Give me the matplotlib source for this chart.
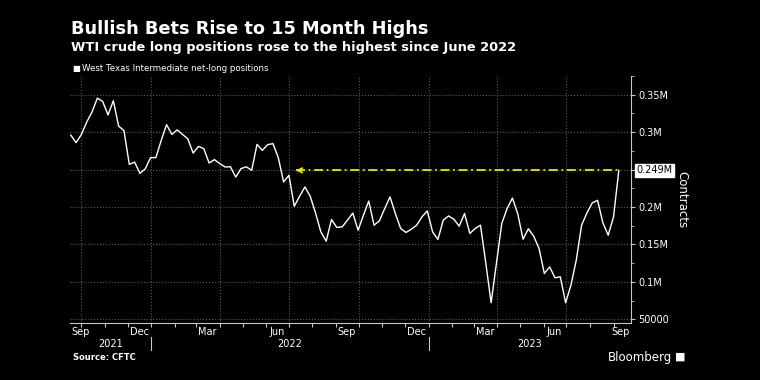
import matplotlib

matplotlib.use("Agg")
import matplotlib.dates as mdates
import matplotlib.pyplot as plt
import pandas as pd

# CFTC weekly data, WTI net-long positions (thousand contracts)
dates = pd.date_range("2021-09-17", periods=104, freq="7D")
net_long_k = [
    296, 286, 297, 313.5, 327, 345.5, 341, 323, 342, 308,
    302, 257, 260, 245, 251, 266, 266, 289, 310, 297,
    303, 297, 291, 272, 281, 278, 258.8, 263.3, 258, 253.5,
    253.7, 240, 251.3, 253.7, 249, 283.7, 275.7, 283.3, 284.7, 266,
    233.5, 242.4, 201, 214.4, 226.8, 214.4, 192, 166.8, 154.4, 183.3,
    172.7, 173.5, 182.4, 192, 169, 189, 208, 175.7, 181.5, 198,
    213.5, 191.3, 171.3, 166, 170.4, 175.7, 186.8, 194.8, 166.8, 156.7,
    182.4, 188.1, 183.7, 174.4, 191.3, 164.7, 171.3, 175.7, 125, 72.1,
    125, 178, 198, 212, 191, 157, 171, 161, 144.7, 111.3,
    120, 105.5, 106.8, 72.1, 95.7, 129, 175.7, 192, 205.5, 209,
    179, 162.4, 186.8, 249,
]
values = [v * 1000 for v in net_long_k]

highlight_value = 249000
highlight_label = "0.249M"
arrow_target = pd.Timestamp("2022-07-10")

y_ticks = [50000, 100000, 150000, 200000, 250000, 300000, 350000]
y_tick_labels = ["50000", "0.1M", "0.15M", "0.2M", "", "0.3M", "0.35M"]
month_labels = [
    ("2021-09-15", "Sep"), ("2021-12-16", "Dec"), ("2022-03-16", "Mar"),
    ("2022-06-15", "Jun"), ("2022-09-15", "Sep"), ("2022-12-16", "Dec"),
    ("2023-03-16", "Mar"), ("2023-06-15", "Jun"), ("2023-09-15", "Sep"),
]
years = ["2021", "2022", "2023"]

title = "Bullish Bets Rise to 15 Month Highs"
subtitle = "WTI crude long positions rose to the highest since June 2022"
legend_text = "West Texas Intermediate net-long positions"

# 色
BG = "black"
FG = "white"
GRID = "#5c5c5c"
AXIS = "#c8c8c8"
YELLOW = "#e8e800"

fig = plt.figure(figsize=(7.6, 3.8), dpi=100, facecolor=BG)
ax = fig.add_axes([70 / 760, 1 - 323.3 / 380, (631 - 70) / 760, (323.3 - 76) / 380])
ax.set_facecolor(BG)

ax.plot(dates, values, color=FG, lw=1.0, zorder=3)

# highlight line + arrow
ax.plot([arrow_target, dates[-1]], [highlight_value, highlight_value],
        color=YELLOW, lw=1.3, linestyle=(0, (5, 2, 1, 2)), zorder=2)
ax.annotate("", xy=(arrow_target, highlight_value),
            xytext=(arrow_target + pd.Timedelta(days=6), highlight_value),
            arrowprops=dict(arrowstyle="->", color=YELLOW, lw=1.3, mutation_scale=8,
                            shrinkA=0, shrinkB=0), zorder=2)

x_left = dates[0] - pd.Timedelta(days=1)
x_right = pd.Timestamp("2023-09-24")
ax.set_xlim(x_left, x_right)
ax.set_ylim(44700, 374000)

# y axis on the right
ax.yaxis.tick_right()
ax.set_yticks(y_ticks)
ax.set_yticklabels(y_tick_labels)
ax.set_yticks([v + 25000 for v in y_ticks], minor=True)
ax.tick_params(axis="y", which="major", colors=AXIS, labelcolor=FG, labelsize=7, length=3, pad=2)
ax.tick_params(axis="y", which="minor", colors=AXIS, length=2)
ax.yaxis.set_label_position("right")
ax.set_ylabel("Contracts", color=FG, fontsize=8.5, rotation=270, labelpad=14)

# x axis: month ticks, quarter gridlines
ax.xaxis.set_major_locator(mdates.MonthLocator(bymonth=[1, 4, 7, 10]))
ax.xaxis.set_minor_locator(mdates.MonthLocator())
ax.xaxis.set_major_formatter(plt.NullFormatter())
ax.tick_params(axis="x", which="both", colors=AXIS, length=3, width=0.8)

ax.grid(True, which="major", color=GRID, linestyle=":", lw=0.8)
ax.set_axisbelow(True)

for side in ["left", "top"]:
    ax.spines[side].set_visible(False)
for side in ["right", "bottom"]:
    ax.spines[side].set_color(AXIS)
    ax.spines[side].set_linewidth(0.8)

# highlight value tag
ax.annotate(highlight_label, xy=(1, highlight_value), xycoords=ax.get_yaxis_transform(),
            xytext=(4, 0), textcoords="offset points", ha="left", va="center",
            fontsize=7, color="black",
            bbox=dict(boxstyle="square,pad=0.15", fc="white", ec="white"))

# month labels (kept inside the axis)
trans = ax.get_xaxis_transform()
margin = pd.Timedelta(days=14)
for d, lab in month_labels:
    pos = min(max(pd.Timestamp(d), x_left + margin), x_right - margin)
    ax.text(pos, -0.035, lab, transform=trans, ha="center", va="center",
            color=FG, fontsize=7)

# year labels and separators
for yr in years:
    start = max(pd.Timestamp(f"{yr}-01-01"), x_left)
    end = min(pd.Timestamp(f"{int(yr) + 1}-01-01"), x_right)
    ax.text(start + (end - start) / 2, -0.085, yr, transform=trans, ha="center",
            va="center", color=FG, fontsize=7)
    if start > x_left:
        ax.plot([start, start], [-0.055, -0.108], transform=trans, color=AXIS,
                lw=0.8, clip_on=False)

# titles
fig.text(71 / 760, 1 - 28.5 / 380, title, color=FG, fontsize=12.8, fontweight="bold",
         ha="left", va="center")
fig.text(71 / 760, 1 - 47 / 380, subtitle, color=FG, fontsize=9.4, fontweight="bold",
         ha="left", va="center")
fig.text(72 / 760, 1 - 68.5 / 380, "\u25a0", color=FG, fontsize=6, ha="left", va="center")
fig.text(82 / 760, 1 - 68.5 / 380, legend_text, color=FG, fontsize=6.2, ha="left", va="center")

fig.text(73 / 760, 1 - 358 / 380, "Source: CFTC", color=FG, fontsize=6, fontweight="bold",
         ha="left", va="center")
fig.text(672 / 760, 1 - 357 / 380, "Bloomberg", color=FG, fontsize=8.5, ha="right", va="center")
fig.text(675 / 760, 1 - 357 / 380, "\u25a0", color=FG, fontsize=8, ha="left", va="center")

fig.savefig("out.png", dpi=100, facecolor=BG)
